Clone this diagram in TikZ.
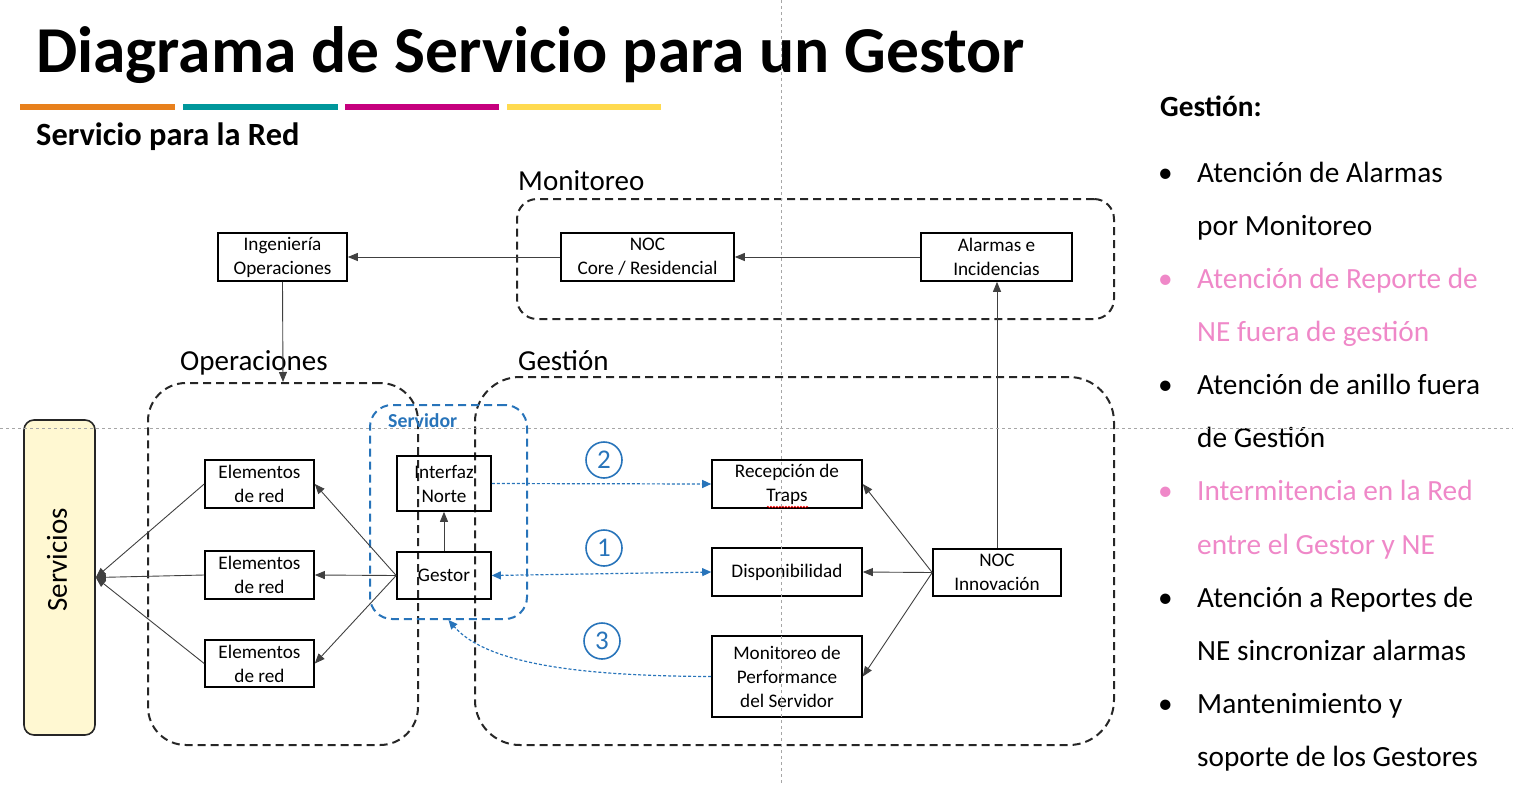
\documentclass[tikz,border=0pt]{standalone}
\usepackage{fontspec}
\setmainfont{Carlito}
\usetikzlibrary{arrows.meta,decorations.pathmorphing}
\definecolor{barorange}{HTML}{E8801C}
\definecolor{barteal}{HTML}{00979B}
\definecolor{barmag}{HTML}{C6007E}
\definecolor{baryellow}{HTML}{FFDA4F}
\definecolor{bluec}{HTML}{2874BA}
\definecolor{pinkc}{HTML}{EF88C8}
\definecolor{connc}{HTML}{404040}
\definecolor{svcfill}{HTML}{FFF8D2}
\tikzset{
  box/.style={draw=black, line width=1.6pt, inner sep=0pt, align=center, font=\fontsize{19.2}{24}\selectfont},
  conn/.style={draw=connc, line width=0.9pt, -{Triangle[length=10pt,width=8pt]}, color=connc},
  bluearr/.style={draw=bluec, line width=1.2pt, dash pattern=on 3pt off 2pt, -{Triangle[length=9pt,width=8pt]}, color=bluec},
  grp/.style={draw=black!85, line width=2pt, dash pattern=on 8pt off 5pt, inner sep=0pt},
  guide/.style={draw=black!35, line width=0.8pt, dash pattern=on 3pt off 3pt},
  lbl/.style={inner sep=0pt, anchor=base west, font=\fontsize{29}{33}\selectfont},
  item/.style={inner sep=0pt, anchor=base west, font=\fontsize{29.3}{33}\selectfont},
  num/.style={draw=bluec, line width=1.6pt, circle, minimum size=36pt, inner sep=0pt, text=bluec, font=\fontsize{27}{30}\selectfont},
}
\begin{document}
\begin{tikzpicture}[x=1pt,y=-1pt]
\useasboundingbox (0,0) rectangle (1513,785);
% title
\node[inner sep=0pt, anchor=base west, font=\fontsize{65.5}{70}\selectfont\bfseries] (title) at (36,72) {Diagrama de Servicio para un Gestor};
\fill[barorange] (20,104) rectangle (175,110);
\fill[barteal] (183,104) rectangle (338,110);
\fill[barmag] (345,104) rectangle (499,110);
\fill[baryellow] (507,104) rectangle (661,110);
\node[inner sep=0pt, anchor=base west, font=\fontsize{32.4}{36}\selectfont\bfseries] (subtitle) at (36,145) {Servicio para la Red};
% groups
\node[grp, rounded corners=20pt, minimum width=597pt, minimum height=120pt] (mongrp) at (815.5,259) {};
\node[grp, rounded corners=38pt, minimum width=270pt, minimum height=362pt] (opgrp) at (283,564) {};
\node[grp, rounded corners=45pt, minimum width=639pt, minimum height=368pt] (gesgrp) at (794.5,561) {};
\node[draw=bluec, line width=2pt, dash pattern=on 8pt off 5pt, rounded corners=22pt, inner sep=0pt, minimum width=157pt, minimum height=214pt] (srv) at (448.5,512) {};
\node[lbl] (monlbl) at (518,190) {Monitoreo};
\node[lbl] (oplbl) at (180,370) {Operaciones};
\node[lbl] (geslbl) at (518,370) {Gestión};
\node[inner sep=0pt, anchor=base west, text=bluec, font=\fontsize{19.8}{22}\selectfont\bfseries] (srvlbl) at (388,427) {Servidor};
% servicios
\node[draw=black!85, line width=1.6pt, fill=svcfill, rounded corners=10pt, minimum width=71pt, minimum height=315pt, inner sep=0pt] (svc) at (59.5,577.5) {};
\node[rotate=90, inner sep=0pt, font=\fontsize{29}{33}\selectfont] (svctxt) at (57,560) {Servicios};
% boxes
\node[box, minimum width=129pt, minimum height=48pt] (ing) at (282.5,257) {Ingeniería\\Operaciones};
\node[box, minimum width=173pt, minimum height=48pt] (noccore) at (647.5,257) {NOC\\Core / Residencial};
\node[box, minimum width=151pt, minimum height=48pt] (alarm) at (996.5,257) {Alarmas e\\Incidencias};
\node[box, minimum width=109pt, minimum height=48pt] (e1) at (259.5,484) {Elementos\\de red};
\node[box, minimum width=109pt, minimum height=48pt] (e2) at (259.5,575) {Elementos\\de red};
\node[box, minimum width=109pt, minimum height=47pt] (e3) at (259.5,663.5) {Elementos\\de red};
\node[box, minimum width=94pt, minimum height=55pt] (intf) at (444,483.5) {Interfaz\\Norte};
\node[box, minimum width=94pt, minimum height=47pt] (gestor) at (444,575.5) {Gestor};
\node[box, minimum width=150pt, minimum height=48pt] (traps) at (787,484) {Recepción de\\Traps};
\node[box, minimum width=150pt, minimum height=48pt] (disp) at (787,572) {Disponibilidad};
\node[box, minimum width=150pt, minimum height=81pt] (perf) at (787,676.5) {Monitoreo de\\Performance\\del Servidor};
\node[box, minimum width=128pt, minimum height=47pt] (noci) at (997,572.5) {NOC\\Innovación};
\draw[red, line width=0.6pt, decorate, decoration={snake, amplitude=0.8pt, segment length=3pt}] (767,507) -- (808,507);
% connectors
\draw[conn] (alarm.west) -- (noccore.east);
\draw[conn] (noccore.west) -- (ing.east);
\draw[conn] (ing.south) -- (opgrp.north);
\draw[conn] (e1.west) -- (svc.east);
\draw[conn] (e2.west) -- (svc.east);
\draw[conn] (e3.west) -- (svc.east);
\draw[conn] (gestor.west) -- (e1.east);
\draw[conn] (gestor.west) -- (e2.east);
\draw[conn] (gestor.west) -- (e3.east);
\draw[conn] (gestor.north) -- (intf.south);
\draw[conn] (noci.west) -- (traps.east);
\draw[conn] (noci.west) -- (disp.east);
\draw[conn] (noci.west) -- (perf.east);
\draw[conn] (noci.north) -- (noci.north |- alarm.south);
\draw[bluearr] (intf.east) -- (traps.west);
\draw[bluearr, {Triangle[length=9pt,width=8pt]}-{Triangle[length=9pt,width=8pt]}] (gestor.east) -- (disp.west);
\draw[bluearr] (perf.west) .. controls (600,676) and (490,668) .. (srv.south);
\node[num] (n2) at (604,460) {2};
\node[num] (n1) at (604,548) {1};
\node[num] (n3) at (602,641) {3};
% right list
\node[inner sep=0pt, anchor=base west, font=\fontsize{29.3}{33}\selectfont\bfseries] (gtit) at (1160,116) {Gestión:};
\node[item] (b1) at (1158,182) {•};
\node[item] (l1) at (1197,182) {Atención de Alarmas};
\node[item] (l2) at (1197,235) {por Monitoreo};
\node[item, text=pinkc] (b2) at (1158,288) {•};
\node[item, text=pinkc] (l3) at (1197,288) {Atención de Reporte de};
\node[item, text=pinkc] (l4) at (1197,341) {NE fuera de gestión};
\node[item] (b3) at (1158,394) {•};
\node[item] (l5) at (1197,394) {Atención de anillo fuera};
\node[item] (l6) at (1197,447) {de Gestión};
\node[item, text=pinkc] (b4) at (1158,500) {•};
\node[item, text=pinkc] (l7) at (1197,500) {Intermitencia en la Red};
\node[item, text=pinkc] (l8) at (1197,554) {entre el Gestor y NE};
\node[item] (b5) at (1158,607) {•};
\node[item] (l9) at (1197,607) {Atención a Reportes de};
\node[item] (l10) at (1197,660) {NE sincronizar alarmas};
\node[item] (b6) at (1158,713) {•};
\node[item] (l11) at (1197,713) {Mantenimiento y};
\node[item] (l12) at (1197,766) {soporte de los Gestores};
% guides
\draw[guide] (781,0) -- (781,785);
\draw[guide] (0,428) -- (1513,428);
\end{tikzpicture}
\end{document}
